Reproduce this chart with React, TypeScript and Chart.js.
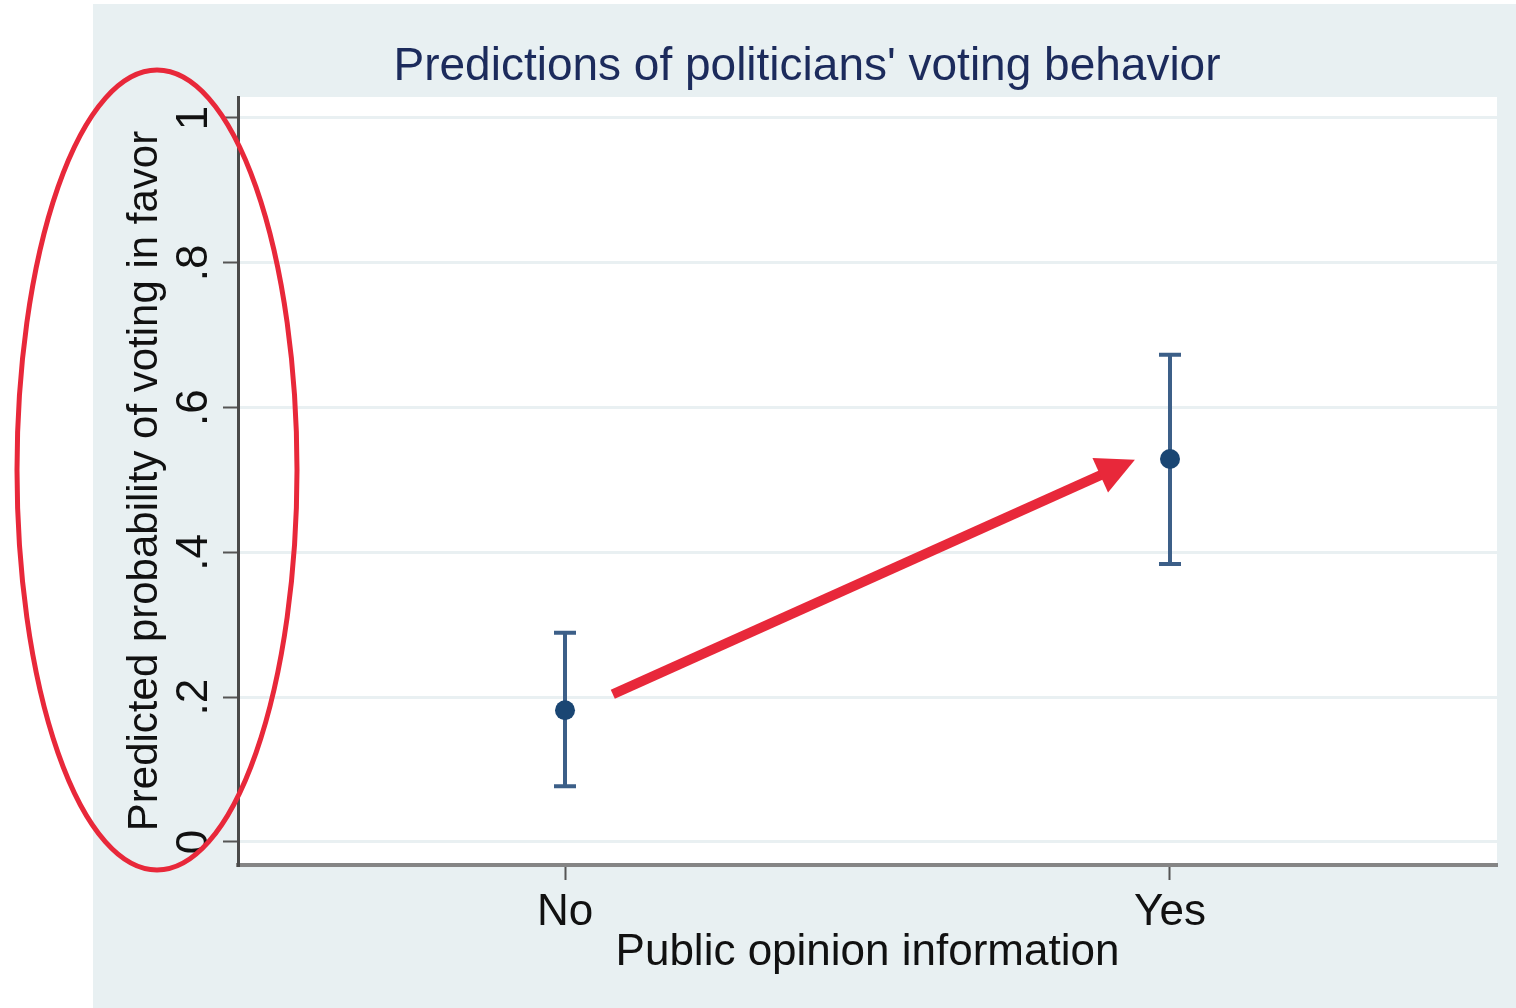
import React, { useEffect, useRef } from "react";
import { Chart, registerables } from "chart.js";

Chart.register(...registerables);

// ---- data ----
const categories = ["No", "Yes"];
const categoryPositions = [0, 1];
const predicted = [0.182, 0.529];
const ciLower = [0.077, 0.384];
const ciUpper = [0.289, 0.673];
const yTickValues = [0, 0.2, 0.4, 0.6, 0.8, 1];
const yTickLabels = ["0", ".2", ".4", ".6", ".8", "1"];

const chartTitle = "Predictions of politicians' voting behavior";
const yTitle = "Predicted probability of voting in favor";
const xTitle = "Public opinion information";

// annotation arrow (data coordinates)
const arrowStart = { x: 0.079, y: 0.204 };
const arrowEnd = { x: 0.942, y: 0.528 };

const FONT = "'Liberation Sans', Arial, sans-serif";
const BG = "#e8f0f2";
const RED = "#e8283a";

export default function App() {
  const ref = useRef<HTMLCanvasElement | null>(null);

  useEffect(() => {
    document.body.style.margin = "0";
    document.body.style.overflow = "hidden";
    const canvas = ref.current;
    if (!canvas) return;

    const decorPlugin = {
      id: "decor",
      beforeDraw(chart: any) {
        const { ctx, chartArea } = chart;
        const W = chart.width;
        const H = chart.height;
        ctx.save();
        ctx.fillStyle = "#ffffff";
        ctx.fillRect(0, 0, W, H);
        ctx.fillStyle = BG;
        ctx.fillRect(93, 4, W - 93, H - 4);
        ctx.fillStyle = "#ffffff";
        ctx.fillRect(chartArea.left, chartArea.top, chartArea.right - chartArea.left, chartArea.bottom - chartArea.top);
        // title
        ctx.fillStyle = "#1c2b5c";
        ctx.font = `46px ${FONT}`;
        ctx.textAlign = "center";
        ctx.textBaseline = "middle";
        ctx.fillText(chartTitle, 807, 67);
        ctx.restore();
      },
      beforeDatasetsDraw(chart: any) {
        const { ctx, scales } = chart;
        const xs = scales.x;
        const ys = scales.y;
        ctx.save();
        ctx.strokeStyle = "#3c5f88";
        ctx.lineWidth = 4;
        for (let i = 0; i < categoryPositions.length; i++) {
          const px = xs.getPixelForValue(categoryPositions[i]);
          const lo = ys.getPixelForValue(ciLower[i]);
          const hi = ys.getPixelForValue(ciUpper[i]);
          ctx.beginPath();
          ctx.moveTo(px, lo);
          ctx.lineTo(px, hi);
          ctx.moveTo(px - 11, lo);
          ctx.lineTo(px + 11, lo);
          ctx.moveTo(px - 11, hi);
          ctx.lineTo(px + 11, hi);
          ctx.stroke();
        }
        ctx.restore();
      },
      afterDraw(chart: any) {
        const { ctx, scales } = chart;
        const xs = scales.x;
        const ys = scales.y;
        ctx.save();
        // ellipse annotation
        ctx.strokeStyle = RED;
        ctx.lineWidth = 5;
        ctx.beginPath();
        ctx.ellipse(157, 470, 140, 400, 0, 0, Math.PI * 2);
        ctx.stroke();
        // arrow annotation
        const x0 = xs.getPixelForValue(arrowStart.x);
        const y0 = ys.getPixelForValue(arrowStart.y);
        const x1 = xs.getPixelForValue(arrowEnd.x);
        const y1 = ys.getPixelForValue(arrowEnd.y);
        const ang = Math.atan2(y1 - y0, x1 - x0);
        const headLen = 38;
        const headHalf = 19;
        const bx = x1 - headLen * Math.cos(ang);
        const by = y1 - headLen * Math.sin(ang);
        ctx.lineWidth = 10;
        ctx.lineCap = "butt";
        ctx.beginPath();
        ctx.moveTo(x0, y0);
        ctx.lineTo(bx + 2 * Math.cos(ang), by + 2 * Math.sin(ang));
        ctx.stroke();
        ctx.fillStyle = RED;
        ctx.beginPath();
        ctx.moveTo(x1, y1);
        ctx.lineTo(bx + headHalf * Math.sin(ang), by - headHalf * Math.cos(ang));
        ctx.lineTo(bx - headHalf * Math.sin(ang), by + headHalf * Math.cos(ang));
        ctx.closePath();
        ctx.fill();
        ctx.restore();
      },
    };

    const chart = new Chart(canvas, {
      type: "scatter",
      data: {
        datasets: [
          {
            data: categoryPositions.map((x, i) => ({ x, y: predicted[i] })),
            backgroundColor: "#1a4673",
            borderWidth: 0,
            pointRadius: 10,
          },
        ],
      },
      options: {
        animation: false,
        responsive: false,
        layout: { padding: { left: 93, top: 97, right: 19, bottom: 0 } },
        plugins: {
          legend: { display: false },
          tooltip: { enabled: false },
          title: { display: false },
        },
        scales: {
          x: {
            type: "linear",
            min: -0.5405,
            max: 1.5405,
            afterBuildTicks: (scale: any) => {
              scale.ticks = categoryPositions.map((v) => ({ value: v }));
            },
            afterFit: (scale: any) => {
              scale.height = 143;
            },
            ticks: {
              callback: (v: any) => {
                const i = categoryPositions.indexOf(Number(v));
                return i >= 0 ? categories[i] : "";
              },
              font: { family: FONT, size: 44 },
              color: "#111111",
              padding: 6,
              maxRotation: 0,
              minRotation: 0,
            },
            grid: {
              drawOnChartArea: false,
              drawTicks: true,
              tickLength: 15,
              tickColor: "#555555",
              tickWidth: 2,
            },
            border: { display: true, color: "#858585", width: 4 },
            title: {
              display: true,
              text: xTitle,
              font: { family: FONT, size: 44 },
              color: "#111111",
              padding: { top: 0, bottom: 29 },
            },
          },
          y: {
            type: "linear",
            min: -0.0318,
            max: 1.029,
            afterBuildTicks: (scale: any) => {
              scale.ticks = yTickValues.map((v) => ({ value: v }));
            },
            afterFit: (scale: any) => {
              scale.width = 145;
            },
            ticks: {
              callback: (v: any) => {
                const i = yTickValues.findIndex((t) => Math.abs(t - Number(v)) < 1e-9);
                return i >= 0 ? yTickLabels[i] : "";
              },
              font: { family: FONT, size: 44 },
              color: "#111111",
              padding: 10,
              minRotation: 90,
              maxRotation: 90,
              crossAlign: "center",
            },
            grid: {
              color: "#e9f0f2",
              lineWidth: 3,
              drawTicks: true,
              tickLength: 15,
              tickColor: "#555555",
              tickWidth: 2,
            },
            border: { display: true, color: "#4a4a4a", width: 3 },
            title: {
              display: true,
              text: yTitle,
              font: { family: FONT, size: 42 },
              color: "#111111",
              padding: { top: 27, bottom: 0 },
            },
          },
        },
      },
      plugins: [decorPlugin],
    } as any);

    return () => chart.destroy();
  }, []);

  return (
    <div style={{ width: 1516, height: 1008 }}>
      <canvas ref={ref} width={1516} height={1008} style={{ display: "block" }} />
    </div>
  );
}
